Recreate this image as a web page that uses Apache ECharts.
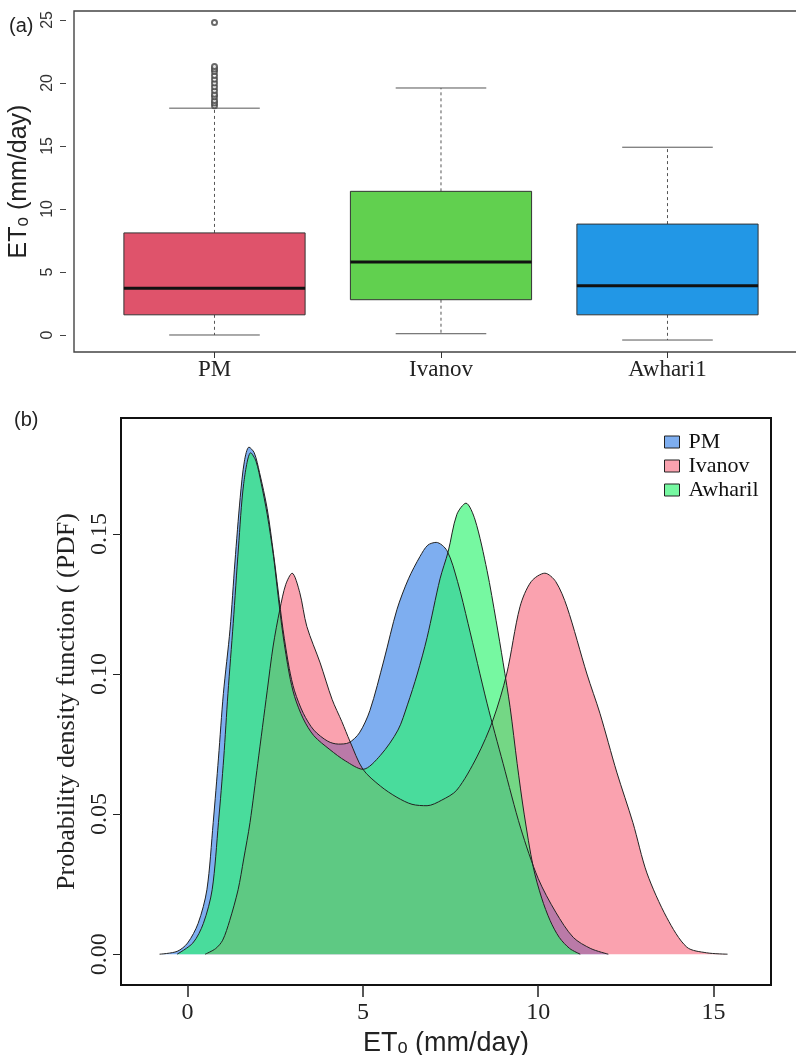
<!DOCTYPE html>
<html><head><meta charset="utf-8">
<script src="https://cdn.jsdelivr.net/npm/echarts@6/dist/echarts.min.js"></script>
<style>html,body{margin:0;padding:0;background:#fff}#c{width:796px;height:1055px}</style>
</head><body><div id="c"></div>
<script>
// ---- Panel (a): box plot values ----
const categories = ['PM', 'Ivanov', 'Awhari1'];
const boxLow  = [0.0, 0.1, -0.4];
const boxQ1   = [1.6, 2.8, 1.6];
const boxMed  = [3.7, 5.8, 3.9];
const boxQ3   = [8.1, 11.4, 8.8];
const boxHigh = [18.0, 19.6, 14.9];
const pmOutliers = [18.2, 18.4, 18.6, 18.9, 19.1, 19.4, 19.7, 20.0, 20.3, 20.6, 20.9, 21.1, 21.3, 24.8];
const yTicksA = [0, 5, 10, 15, 20, 25];

// ---- Panel (b): density curves ----
const pmX = [-0.8,-0.3,0,0.3,0.55,0.73,0.88,1.02,1.21,1.35,1.5,1.62,1.75,1.9,2.05,2.27,2.45,2.58,2.72,2.9,3.05,3.3,3.6,4.0,4.3,4.6,4.9,5.2,5.6,5.97,6.3,6.63,6.85,7.09,7.4,7.7,8.0,8.54,9.0,9.5,10.0,10.5,11.0,11.5,12.0];
const pmY = [0,0.001,0.004,0.011,0.023,0.047,0.07,0.093,0.116,0.14,0.163,0.176,0.181,0.179,0.172,0.159,0.143,0.13,0.116,0.102,0.094,0.086,0.08,0.076,0.075,0.0755,0.079,0.087,0.105,0.123,0.134,0.142,0.146,0.147,0.144,0.133,0.118,0.0896,0.068,0.045,0.027,0.015,0.006,0.002,0];
const ivX = [0.5,0.8,1.0,1.2,1.44,1.6,1.78,2.0,2.27,2.44,2.63,2.8,2.98,3.2,3.4,3.78,4.12,4.4,4.63,5.0,5.5,5.97,6.4,6.83,7.25,7.68,8.25,8.71,9.1,9.48,9.8,10.19,10.5,10.82,11.39,11.76,12.24,12.7,13.1,13.67,14.24,14.8,15.4];
const ivY = [0,0.002,0.005,0.012,0.023,0.034,0.047,0.068,0.094,0.11,0.123,0.132,0.136,0.129,0.117,0.104,0.091,0.083,0.076,0.066,0.06,0.056,0.0535,0.053,0.055,0.0586,0.0704,0.0836,0.1,0.124,0.133,0.136,0.133,0.124,0.1,0.086,0.065,0.047,0.029,0.013,0.0025,0.0005,0];
const awX = [-0.3,0.15,0.45,0.7,0.88,1.03,1.15,1.3,1.45,1.6,1.8,1.95,2.1,2.27,2.45,2.58,2.72,2.9,3.05,3.3,3.6,4.06,4.5,5.0,5.5,6.0,6.27,6.55,6.83,7.2,7.43,7.68,7.94,8.2,8.54,8.8,9.0,9.2,9.4,9.6,9.86,10.1,10.34,10.6,10.9,11.2];
const awY = [0,0.004,0.011,0.023,0.047,0.07,0.093,0.118,0.145,0.168,0.179,0.176,0.168,0.157,0.142,0.128,0.114,0.1,0.092,0.084,0.078,0.073,0.069,0.066,0.071,0.08,0.089,0.1,0.113,0.134,0.1436,0.157,0.161,0.155,0.137,0.119,0.104,0.088,0.068,0.05,0.031,0.02,0.012,0.006,0.002,0];
const densityNames = ['PM', 'Ivanov', 'Awharil'];
const xTicksB = [0, 5, 10, 15];
const yTicksB = [0, 0.05, 0.10, 0.15];

const boxColors = ['#DF536B', '#61D04F', '#2297E6'];
const fillColors = ['rgba(40,120,230,0.6)', 'rgba(245,70,95,0.5)', 'rgba(45,245,110,0.65)'];

const zip = (xs, ys) => xs.map((x, i) => [x, ys[i]]);
const boxData = categories.map((c, i) => [i + 1, boxLow[i], boxQ1[i], boxMed[i], boxQ3[i], boxHigh[i]]);

function renderBox(params, api) {
  const x = api.value(0);
  const lo = api.coord([x, api.value(1)]);
  const q1 = api.coord([x, api.value(2)]);
  const md = api.coord([x, api.value(3)]);
  const q3 = api.coord([x, api.value(4)]);
  const hi = api.coord([x, api.value(5)]);
  const hw = api.size([0.4, 0])[0];
  const cw = api.size([0.2, 0])[0];
  const cx = lo[0];
  const gray = '#555';
  return { type: 'group', children: [
    { type: 'line', shape: { x1: cx, y1: q3[1], x2: cx, y2: hi[1] }, style: { stroke: gray, lineWidth: 1, lineDash: [3, 3] } },
    { type: 'line', shape: { x1: cx, y1: q1[1], x2: cx, y2: lo[1] }, style: { stroke: gray, lineWidth: 1, lineDash: [3, 3] } },
    { type: 'line', shape: { x1: cx - cw, y1: hi[1], x2: cx + cw, y2: hi[1] }, style: { stroke: gray, lineWidth: 1 } },
    { type: 'line', shape: { x1: cx - cw, y1: lo[1], x2: cx + cw, y2: lo[1] }, style: { stroke: gray, lineWidth: 1 } },
    { type: 'rect', shape: { x: cx - hw, y: q3[1], width: 2 * hw, height: q1[1] - q3[1] }, style: { fill: boxColors[params.dataIndex], stroke: '#333', lineWidth: 1 } },
    { type: 'line', shape: { x1: cx - hw, y1: md[1], x2: cx + hw, y2: md[1] }, style: { stroke: '#111', lineWidth: 3 } }
  ]};
}

const chart = echarts.init(document.getElementById('c'));
const serif = 'Liberation Serif';
const sans = 'Liberation Sans';

function densitySeries(i, xs, ys) {
  return { name: densityNames[i], type: 'line', xAxisIndex: 1, yAxisIndex: 1, data: zip(xs, ys),
    smooth: 0.3, showSymbol: false,
    lineStyle: { color: '#222', width: 1 }, itemStyle: { color: fillColors[i] },
    areaStyle: { color: fillColors[i], opacity: 1 } };
}

chart.setOption({
  animation: false,
  backgroundColor: '#fff',
  title: [
    { text: '(a)', left: 4, top: 11, textStyle: { fontFamily: sans, fontSize: 20, fontWeight: 'normal', color: '#222' } },
    { text: '(b)', left: 9, top: 405, textStyle: { fontFamily: sans, fontSize: 20, fontWeight: 'normal', color: '#222' } }
  ],
  legend: {
    orient: 'vertical', left: 659, top: 426, itemWidth: 15, itemHeight: 12, itemGap: 2, icon: 'rect',
    textStyle: { fontFamily: serif, fontSize: 22, color: '#111', lineHeight: 22, padding: [0, 0, 0, 4] },
    data: densityNames.map((n, i) => ({ name: n, itemStyle: { color: fillColors[i], borderColor: '#222', borderWidth: 1 } }))
  },
  grid: [
    { left: 74, top: 11, width: 730, height: 341, show: true, borderColor: '#444', borderWidth: 1.4, backgroundColor: '#fff', outerBoundsMode: 'none', containLabel: false },
    { left: 121, top: 418, width: 650, height: 567, show: true, borderColor: '#111', borderWidth: 2, backgroundColor: 'transparent', outerBoundsMode: 'none', containLabel: false }
  ],
  xAxis: [
    { gridIndex: 0, type: 'value', min: 0.3797, max: 3.6027,
      axisLine: { show: false, onZero: false }, splitLine: { show: false },
      axisTick: { show: true, customValues: [1, 2, 3], length: 6, lineStyle: { color: '#333' } },
      axisLabel: { customValues: [1, 2, 3], formatter: v => categories[Math.round(v) - 1], fontFamily: serif, fontSize: 23, color: '#222', margin: 6 } },
    { gridIndex: 1, type: 'value', min: -1.9, max: 16.64,
      axisLine: { show: false, onZero: false }, splitLine: { show: false },
      axisTick: { show: true, customValues: xTicksB, length: 12, lineStyle: { color: '#222', width: 1.5 } },
      axisLabel: { customValues: xTicksB, fontFamily: serif, fontSize: 24, color: '#222', margin: 16 },
      name: 'ETₒ (mm/day)', nameLocation: 'middle', nameGap: 41,
      nameTextStyle: { fontFamily: sans, fontSize: 27, color: '#222' } }
  ],
  yAxis: [
    { gridIndex: 0, type: 'value', min: -1.35, max: 25.71, offset: 8,
      axisLine: { show: false, onZero: false }, splitLine: { show: false },
      axisTick: { show: true, customValues: yTicksA, length: 6, lineStyle: { color: '#444' } },
      axisLabel: { customValues: yTicksA, rotate: 90, fontFamily: sans, fontSize: 16, color: '#333', margin: 10 },
      name: 'ETₒ (mm/day)', nameLocation: 'middle', nameGap: 28,
      nameTextStyle: { fontFamily: sans, fontSize: 25, color: '#222' } },
    { gridIndex: 1, type: 'value', min: -0.011, max: 0.1914,
      axisLine: { show: false, onZero: false }, splitLine: { show: false },
      axisTick: { show: true, customValues: yTicksB, length: 8, lineStyle: { color: '#222' } },
      axisLabel: { customValues: yTicksB, rotate: 90, formatter: v => v.toFixed(2), fontFamily: serif, fontSize: 24, color: '#222', margin: 9 },
      name: 'Probability density function ( (PDF)', nameLocation: 'middle', nameGap: 39,
      nameTextStyle: { fontFamily: serif, fontSize: 26, color: '#222' } }
  ],
  series: [
    { type: 'custom', xAxisIndex: 0, yAxisIndex: 0, renderItem: renderBox, data: boxData, encode: { x: 0, y: [1, 2, 3, 4, 5] } },
    { type: 'scatter', xAxisIndex: 0, yAxisIndex: 0, symbol: 'emptyCircle', symbolSize: 5,
      itemStyle: { color: '#444', borderColor: '#444', borderWidth: 1 },
      data: pmOutliers.map(v => [1, v]) },
    densitySeries(0, pmX, pmY),
    densitySeries(1, ivX, ivY),
    densitySeries(2, awX, awY)
  ]
});
</script></body></html>
